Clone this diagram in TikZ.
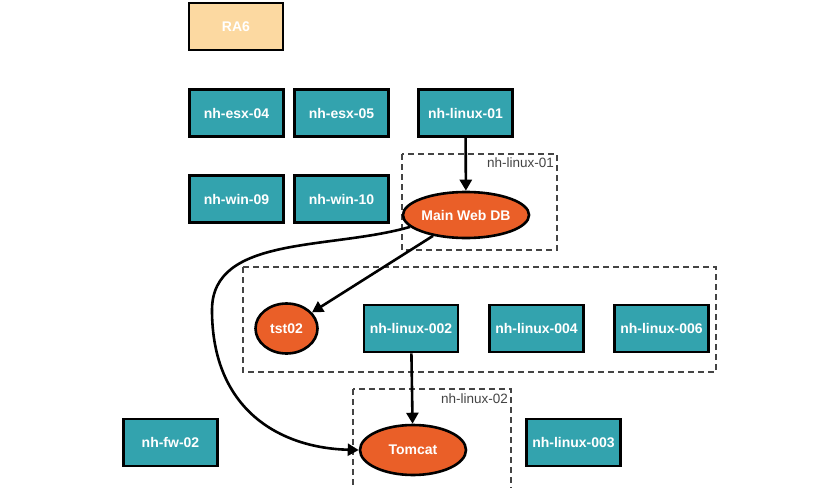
\documentclass[tikz,border=0pt]{standalone}
\usepackage{fontspec}
\setmainfont{Liberation Sans}
\usetikzlibrary{arrows.meta,shapes.geometric}
\definecolor{tealc}{HTML}{33A3AE}
\definecolor{orangec}{HTML}{EA5F28}
\definecolor{peachc}{HTML}{FCD9A1}
\definecolor{dashc}{HTML}{444444}
\tikzset{
  hostbox/.style={draw=black,line width=2.6pt,fill=tealc,minimum width=94pt,minimum height=47pt,inner sep=0pt,text=white,font=\bfseries\fontsize{14}{16}\selectfont},
  rabox/.style={hostbox,fill=peachc},
  svc/.style={ellipse,draw=black,line width=2.6pt,fill=orangec,inner sep=0pt,text=white,font=\bfseries\fontsize{14}{16}\selectfont},
  grp/.style={draw=dashc,line width=1.4pt,dash pattern=on 6pt off 4pt},
  grplabel/.style={text=dashc,font=\fontsize{13.5}{15}\selectfont,anchor=north east,inner sep=2pt},
  conn/.style={line width=2.6pt,-{Triangle[length=11pt,width=12pt]}}
}
\begin{document}
\begin{tikzpicture}[x=1pt,y=-1pt]
\useasboundingbox[fill=white] (0,0) rectangle (840,487);
% groups
\draw[grp] (402,154) rectangle (557,250);
\node[grplabel] (g1) at (556,156) {nh-linux-01};
\draw[grp] (243,267) rectangle (716,372);
\draw[grp] (353,389) rectangle (511,492);
\node[grplabel] (g3) at (510,392) {nh-linux-02};
% hosts
\node[rabox] (ra6) at (236,26.5) {RA6};
\node[hostbox] (esx04) at (236.5,113) {nh-esx-04};
\node[hostbox] (esx05) at (341.5,113) {nh-esx-05};
\node[hostbox] (lin01) at (465.5,113) {nh-linux-01};
\node[hostbox] (win09) at (236.5,199) {nh-win-09};
\node[hostbox] (win10) at (341.5,199) {nh-win-10};
\node[hostbox] (lin002) at (411,328.5) {nh-linux-002};
\node[hostbox] (lin004) at (536.5,328.5) {nh-linux-004};
\node[hostbox] (lin006) at (661.5,328.5) {nh-linux-006};
\node[hostbox] (fw02) at (170.5,442.5) {nh-fw-02};
\node[hostbox] (lin003) at (573.5,442.5) {nh-linux-003};
% services
\node[svc,minimum width=106pt,minimum height=46pt] (mwdb) at (466,215) {Main Web DB};
\node[svc,minimum width=62pt,minimum height=50pt] (tst02) at (286.5,328.5) {tst02};
\node[svc,minimum width=106pt,minimum height=50pt] (tomcat) at (413,450) {Tomcat};
% connectors
\draw[conn] (lin01) -- (mwdb);
\draw[conn] (mwdb) -- (tst02);
\draw[conn] (lin002) -- (tomcat);
\coordinate (bend) at (212,310);
\draw[line width=2.6pt] (mwdb.192) .. controls (330,250) and (212,235) .. (bend);
\draw[conn] (bend) .. controls (212,410) and (280,448) .. (tomcat.west);
\end{tikzpicture}
\end{document}
